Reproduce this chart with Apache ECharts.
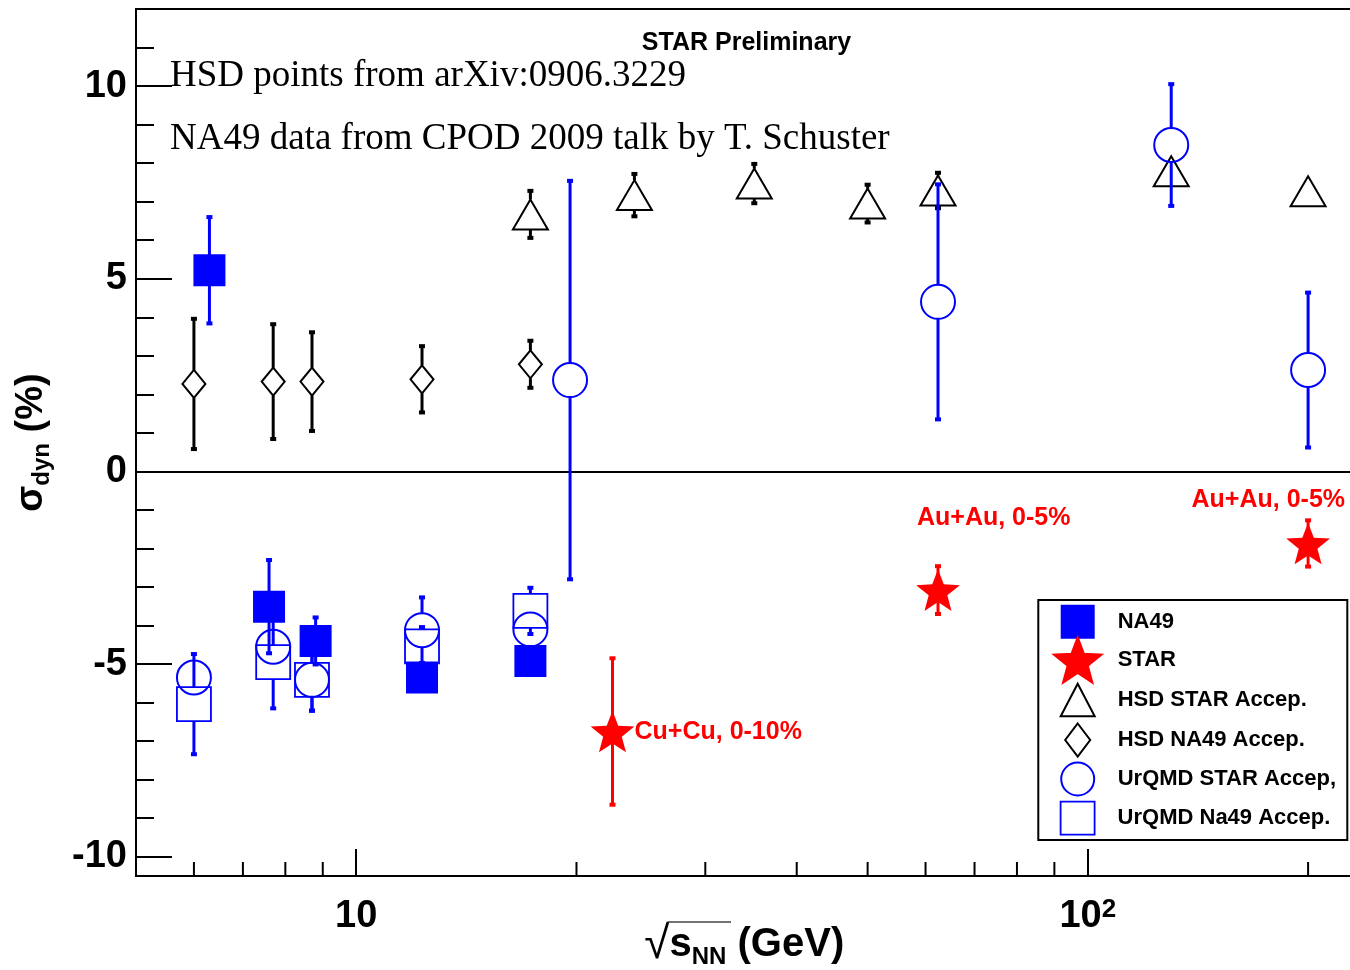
<!DOCTYPE html>
<html><head><meta charset="utf-8">
<script src="https://cdn.jsdelivr.net/npm/echarts@6/dist/echarts.min.js"></script>
<style>html,body{margin:0;padding:0;background:#fff}#c{width:1350px;height:970px}</style>
</head><body><div id="c"></div>
<script>
// ---------------- data ----------------
const na49X   = [6.3, 7.6, 8.8, 12.3, 17.3];
const na49Y   = [5.22, -3.51, -4.40, -5.35, -4.92];
const na49Err = [1.38, 1.21, 0.61, 0.30, 0.30];

const starX   = [22.4, 62.4, 200];
const starY   = [-6.75, -3.08, -1.87];
const starErr = [1.90, 0.62, 0.60];
const starLabels = ['Cu+Cu, 0-10%', 'Au+Au, 0-5%', 'Au+Au, 0-5%'];

const hsdStarX   = [17.3, 24.0, 35.0, 50.0, 62.4, 130, 200];
const hsdStarY   = [6.67, 7.17, 7.47, 6.95, 7.29, 7.79, 7.27];
const hsdStarErr = [0.61, 0.55, 0.51, 0.49, 0.46, 0.30, 0.20];

const hsdNa49X   = [6.0, 7.7, 8.7, 12.3, 17.3];
const hsdNa49Y   = [2.27, 2.33, 2.33, 2.39, 2.78];
const hsdNa49Err = [1.69, 1.49, 1.28, 0.86, 0.61];

const urqmdStarX   = [6.0, 7.7, 8.7, 12.3, 17.3, 19.6, 62.4, 130, 200];
const urqmdStarY   = [-5.35, -4.55, -5.41, -4.12, -4.10, 2.37, 4.40, 8.47, 2.63];
const urqmdStarErr = [0.40, 0.40, 0.80, 0.85, 0.40, 5.17, 3.05, 1.58, 2.01];

const urqmdNa49X   = [6.0, 7.7, 8.7, 12.3, 17.3];
const urqmdNa49Y   = [-6.04, -4.95, -5.41, -4.54, -3.62];
const urqmdNa49Err = [1.30, 1.20, 0.80, 0.50, 0.60];

const xMinorTicks = [6, 7, 8, 9, 20, 30, 40, 50, 60, 70, 80, 90, 200];
const xRange = [5, 230];
const yRange = [-10.5, 12];

const legendNames = ['NA49', 'STAR', 'HSD STAR Accep.', 'HSD NA49 Accep.', 'UrQMD STAR Accep,', 'UrQMD Na49 Accep.'];

// ---------------- styles ----------------
const BLUE = '#0000ff', RED = '#ff0000', BLACK = '#000000', CLEAR = 'rgba(0,0,0,0)';
const FONT = "'Liberation Sans', Arial, Helvetica, sans-serif";
const SERIF = "'Liberation Serif', 'Times New Roman', serif";
const GAP = {fsquare: 0, star: 0, triangle: 15, diamond: 14, circle: 17, osquare: 17};
const starLabelStyle = [
  {dx: 22, dy: 0.5, align: 'left'},
  {dx: 55.7, dy: -71.8, align: 'center'},
  {dx: -39.8, dy: -43.4, align: 'center'}
];
const legendRowY = [621.7, 660, 700, 740, 779, 818.3];

function starPoints(cx, cy, R, r) {
  const pts = [];
  for (let k = 0; k < 10; k++) {
    const a = -Math.PI / 2 + k * Math.PI / 5;
    const rad = (k % 2 === 0) ? R : r;
    pts.push([cx + rad * Math.cos(a), cy + rad * Math.sin(a)]);
  }
  return pts;
}
function starPathStr(cx, cy, R, r) {
  return starPoints(cx, cy, R, r).map((p, i) => (i ? 'L' : 'M') + p[0].toFixed(2) + ' ' + p[1].toFixed(2)).join(' ') + ' Z';
}

function markerEl(kind, cx, cy) {
  switch (kind) {
    case 'fsquare': return {type: 'rect', shape: {x: cx - 16, y: cy - 16, width: 32, height: 32}, style: {fill: BLUE}};
    case 'osquare': return {type: 'rect', shape: {x: cx - 17, y: cy - 17, width: 34, height: 34}, style: {fill: 'none', stroke: BLUE, lineWidth: 1.8}};
    case 'circle':  return {type: 'circle', shape: {cx: cx, cy: cy, r: 17}, style: {fill: 'none', stroke: BLUE, lineWidth: 2}};
    case 'triangle': return {type: 'polygon', shape: {points: [[cx, cy - 15], [cx + 17.5, cy + 15], [cx - 17.5, cy + 15]]}, style: {fill: 'none', stroke: BLACK, lineWidth: 2}};
    case 'diamond': return {type: 'polygon', shape: {points: [[cx, cy - 14], [cx + 11.5, cy], [cx, cy + 14], [cx - 11.5, cy]]}, style: {fill: 'none', stroke: BLACK, lineWidth: 2}};
    case 'star': return {type: 'polygon', shape: {points: starPoints(cx, cy + 2.2, 23, 9.8)}, style: {fill: RED}};
  }
}

function makeRender(kind, color) {
  return function (params, api) {
    const x = api.value(0), y = api.value(1), e = api.value(2);
    const c = api.coord([x, y]);
    const t = api.coord([x, y + e]);
    const b = api.coord([x, y - e]);
    const g = GAP[kind];
    const ch = [];
    const lw = 3;
    if (t[1] < c[1] - g - 1) {
      ch.push({type: 'line', shape: {x1: c[0], y1: t[1], x2: c[0], y2: c[1] - g}, style: {stroke: color, lineWidth: lw}});
      ch.push({type: 'rect', shape: {x: c[0] - 3, y: t[1] - 2, width: 6, height: 4}, style: {fill: color}});
    }
    if (b[1] > c[1] + g + 1) {
      ch.push({type: 'line', shape: {x1: c[0], y1: c[1] + g, x2: c[0], y2: b[1]}, style: {stroke: color, lineWidth: lw}});
      ch.push({type: 'rect', shape: {x: c[0] - 3, y: b[1] - 2, width: 6, height: 4}, style: {fill: color}});
    }
    ch.push(markerEl(kind, c[0], c[1]));
    if (kind === 'star' && starLabels[params.dataIndex]) {
      const s = starLabelStyle[params.dataIndex];
      ch.push({type: 'text', x: c[0] + s.dx, y: c[1] + s.dy,
        style: {text: starLabels[params.dataIndex], fill: RED, font: 'bold 25px ' + FONT,
                align: s.align, textAlign: s.align, verticalAlign: 'middle', textVerticalAlign: 'middle'}});
    }
    return {type: 'group', children: ch};
  };
}

function zip(xs, ys, es) { return xs.map((v, i) => [v, ys[i], es[i]]); }

function errSeries(name, kind, color, xs, ys, es, z) {
  return {name: name, type: 'custom', coordinateSystem: 'cartesian2d', silent: true,
    data: zip(xs, ys, es), encode: {x: 0, y: 1}, renderItem: makeRender(kind, color), z: z};
}

// legend icons in a 70 x 48 box (invisible moveTo corners keep the box size)
const BOX = 'M0 0 M70 48 ';
const ICON = {
  fsquare: 'path://' + BOX + 'M19 8 L51 8 L51 40 L19 40 Z',
  star: 'path://' + BOX + starPathStr(35, 26.4, 25, 10.6),
  triangle: 'path://' + BOX + 'M35 7.7 L52 40.3 L18 40.3 Z',
  diamond: 'path://' + BOX + 'M35 7.5 L47.5 24 L35 40.5 L22.5 24 Z',
  circle: 'path://' + BOX + 'M51.5 24 A16.5 16.5 0 1 1 18.5 24 A16.5 16.5 0 1 1 51.5 24 Z',
  osquare: 'path://' + BOX + 'M18 7.5 L52 7.5 L52 40.5 L18 40.5 Z'
};
const legendItems = [
  {name: legendNames[0], icon: ICON.fsquare, itemStyle: {color: BLUE, borderColor: BLUE, borderWidth: 2}},
  {name: legendNames[1], icon: ICON.star, itemStyle: {color: RED, borderColor: RED, borderWidth: 2}},
  {name: legendNames[2], icon: ICON.triangle, itemStyle: {color: CLEAR, borderColor: BLACK, borderWidth: 2}},
  {name: legendNames[3], icon: ICON.diamond, itemStyle: {color: CLEAR, borderColor: BLACK, borderWidth: 2}},
  {name: legendNames[4], icon: ICON.circle, itemStyle: {color: CLEAR, borderColor: BLUE, borderWidth: 2}},
  {name: legendNames[5], icon: ICON.osquare, itemStyle: {color: CLEAR, borderColor: BLUE, borderWidth: 1.8}}
];

const chart = echarts.init(document.getElementById('c'), null, {renderer: 'canvas'});

const option = {
  animation: false,
  backgroundColor: '#ffffff',
  textStyle: {fontFamily: FONT},
  grid: {left: 136, top: 9, width: 1216.5, height: 867, show: true, borderColor: BLACK, borderWidth: 2,
         containLabel: false, outerBoundsMode: 'none'},
  xAxis: {
    type: 'log', logBase: 10, min: xRange[0], max: xRange[1],
    axisLine: {show: true, onZero: false, lineStyle: {color: BLACK, width: 2}},
    axisTick: {show: true, inside: true, length: 27, lineStyle: {color: BLACK, width: 2}},
    minorTick: {show: false},
    splitLine: {show: false},
    axisLabel: {
      showMinLabel: false, showMaxLabel: false, margin: 21, color: BLACK,
      formatter: function (v) {
        if (Math.abs(v - 10) < 0.01) return '{b|10}';
        if (Math.abs(v - 100) < 0.1) return '{b|10}{sup|2}';
        return '';
      },
      rich: {
        b: {fontFamily: FONT, fontSize: 38, fontWeight: 'bold', color: BLACK, lineHeight: 40},
        sup: {fontFamily: FONT, fontSize: 26, fontWeight: 'bold', color: BLACK, lineHeight: 16, verticalAlign: 'top'}
      }
    },
    name: '{r|√}{s|s}{sub|NN}{s| (GeV)}',
    nameLocation: 'middle', nameGap: 45, nameMoveOverlap: false,
    nameTextStyle: {
      rich: {
        r: {fontFamily: FONT, fontSize: 46, fontWeight: 'normal', color: BLACK, lineHeight: 48},
        s: {fontFamily: FONT, fontSize: 40, fontWeight: 'bold', color: BLACK, lineHeight: 48},
        sub: {fontFamily: FONT, fontSize: 24, fontWeight: 'bold', color: BLACK, lineHeight: 20, verticalAlign: 'bottom'}
      }
    }
  },
  yAxis: {
    type: 'value', min: yRange[0], max: yRange[1], splitNumber: 5,
    axisLine: {show: true, onZero: false, lineStyle: {color: BLACK, width: 2}},
    axisTick: {show: true, inside: true, length: 36, lineStyle: {color: BLACK, width: 2}},
    minorTick: {show: true, splitNumber: 5, length: 18, lineStyle: {color: BLACK, width: 2}},
    splitLine: {show: false}, minorSplitLine: {show: false},
    axisLabel: {showMinLabel: false, showMaxLabel: false, margin: 9, color: BLACK, fontFamily: FONT, fontSize: 38, fontWeight: 'bold'},
    name: '{s|σ}{sub|dyn}{s| (%)}',
    nameLocation: 'middle', nameRotate: 90, nameGap: 82, nameMoveOverlap: false,
    nameTextStyle: {
      rich: {
        s: {fontFamily: FONT, fontSize: 38, fontWeight: 'bold', color: BLACK, lineHeight: 44},
        sub: {fontFamily: FONT, fontSize: 24, fontWeight: 'bold', color: BLACK, lineHeight: 20, verticalAlign: 'bottom'}
      }
    }
  },
  legend: legendItems.map((it, i) => ({
    orient: 'vertical', left: 1041.7, top: legendRowY[i] - 25, padding: 0,
    itemWidth: 70, itemHeight: 48, itemGap: 0, selectedMode: false,
    textStyle: {fontFamily: FONT, fontSize: 22, fontWeight: 'bold', color: BLACK},
    data: [it]
  })),
  graphic: [
    {type: 'text', x: 746.5, y: 43, z: 10,
      style: {text: 'STAR Preliminary', fill: BLACK, font: 'bold 25px ' + FONT, align: 'center', textAlign: 'center', verticalAlign: 'middle', textVerticalAlign: 'middle'}},
    {type: 'text', x: 170, y: 76.5, z: 10,
      style: {text: 'HSD points from arXiv:0906.3229', fill: BLACK, font: '37px ' + SERIF, align: 'left', textAlign: 'left', verticalAlign: 'middle', textVerticalAlign: 'middle'}},
    {type: 'text', x: 170, y: 139, z: 10,
      style: {text: 'NA49 data from CPOD 2009 talk by T. Schuster', fill: BLACK, font: '37px ' + SERIF, align: 'left', textAlign: 'left', verticalAlign: 'middle', textVerticalAlign: 'middle'}},
    {type: 'rect', z: 10, shape: {x: 1038.3, y: 600, width: 309, height: 240}, style: {fill: 'none', stroke: BLACK, lineWidth: 2}},
    {type: 'line', z: 10, shape: {x1: 668, y1: 922, x2: 731, y2: 922}, style: {stroke: '#444444', lineWidth: 1.5}}
  ],
  series: [
    {name: '_xminor', type: 'custom', coordinateSystem: 'cartesian2d', silent: true,
      data: xMinorTicks.map(v => [v, yRange[0]]), encode: {x: 0, y: 1},
      renderItem: function (params, api) {
        const p = api.coord([api.value(0), api.value(1)]);
        return {type: 'line', shape: {x1: p[0], y1: p[1], x2: p[0], y2: p[1] - 14}, style: {stroke: BLACK, lineWidth: 2}};
      },
      markLine: {silent: true, symbol: 'none', label: {show: false}, lineStyle: {color: BLACK, width: 2, type: 'solid'}, data: [{yAxis: 0}]}
    },
    errSeries(legendNames[2], 'triangle', BLACK, hsdStarX, hsdStarY, hsdStarErr, 3),
    errSeries(legendNames[3], 'diamond', BLACK, hsdNa49X, hsdNa49Y, hsdNa49Err, 3),
    errSeries(legendNames[5], 'osquare', BLUE, urqmdNa49X, urqmdNa49Y, urqmdNa49Err, 4),
    errSeries(legendNames[4], 'circle', BLUE, urqmdStarX, urqmdStarY, urqmdStarErr, 5),
    errSeries(legendNames[0], 'fsquare', BLUE, na49X, na49Y, na49Err, 6),
    errSeries(legendNames[1], 'star', RED, starX, starY, starErr, 7)
  ]
};
chart.setOption(option);
</script>
</body></html>
